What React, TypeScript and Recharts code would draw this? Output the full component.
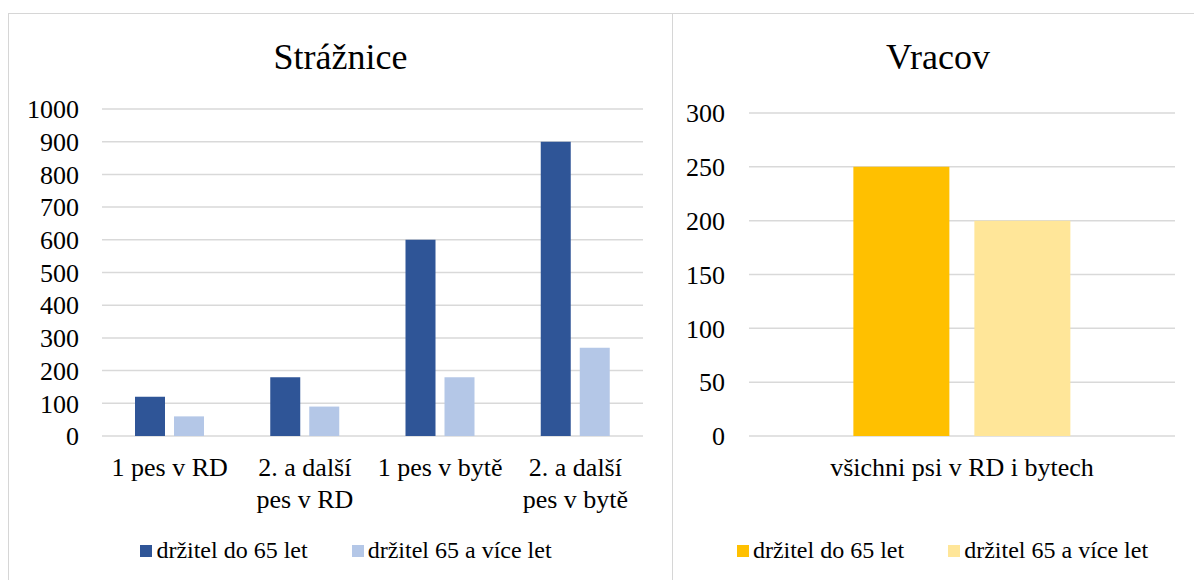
import { BarChart, Bar, XAxis, YAxis, CartesianGrid, Legend } from "recharts";

// Strážnice
const strCategories = ["1 pes v RD", "2. a další\npes v RD", "1 pes v bytě", "2. a další\npes v bytě"];
const strUnder65 = [120, 180, 600, 900];
const strOver65 = [60, 90, 180, 270];
const strTicks = [0, 100, 200, 300, 400, 500, 600, 700, 800, 900, 1000];

// Vracov
const vraCategories = ["všichni psi v RD i bytech"];
const vraUnder65 = [250];
const vraOver65 = [200];
const vraTicks = [0, 50, 100, 150, 200, 250, 300];

const seriesNames = ["držitel do 65 let", "držitel 65 a více let"];

const FONT = "'Liberation Serif', Tinos, 'Times New Roman', 'DejaVu Serif', 'Noto Serif', serif";
const GRID = "#d9d9d9";

const strData = strCategories.map((c, i) => ({ name: c, a: strUnder65[i], b: strOver65[i] }));
const vraData = vraCategories.map((c, i) => ({ name: c, a: vraUnder65[i], b: vraOver65[i] }));

function CatTick({ x, y, payload }: any) {
  const lines = String(payload.value).split("\n");
  return (
    <text x={x} y={y} textAnchor="middle" fontSize={26} fill="#000" style={{ fontFamily: FONT }}>
      {lines.map((l, i) => (
        <tspan key={i} x={x} dy={i === 0 ? 38 : 32}>
          {l}
        </tspan>
      ))}
    </text>
  );
}

function LegendBox({ payload }: any) {
  const items = [...(payload || [])].sort((p: any, q: any) => String(p.dataKey).localeCompare(String(q.dataKey)));
  return (
    <div style={{ height: 40, display: "flex", alignItems: "center", justifyContent: "center", fontFamily: FONT }}>
      {items.map((p: any, i: number) => (
        <div key={i} style={{ display: "flex", alignItems: "center", marginLeft: i > 0 ? 44 : 0 }}>
          <span style={{ width: 12, height: 12, background: p.color, marginRight: 4, marginTop: 2 }} />
          <span style={{ fontSize: 24, lineHeight: "24px", color: "#000" }}>{p.value}</span>
        </div>
      ))}
    </div>
  );
}

const titleStyle = (left: number, width: number): React.CSSProperties => ({
  position: "absolute",
  left,
  width,
  top: 37,
  height: 40,
  lineHeight: "40px",
  fontSize: 36,
  textAlign: "center",
  color: "#000",
  fontFamily: FONT,
});

const yTick = { fontSize: 26, fill: "#000", style: { fontFamily: FONT } };

export default function App() {
  return (
    <div style={{ position: "relative", width: 1194, height: 580, overflow: "hidden", background: "#fff", fontFamily: FONT }}>
      <style>{"body{margin:0} .recharts-wrapper, .recharts-wrapper text { font-family: 'Liberation Serif', Tinos, 'DejaVu Serif', serif; }"}</style>
      {/* panel borders */}
      <div style={{ position: "absolute", left: 8, top: 13, width: 665, height: 620, border: "1px solid #d6d6d6", boxSizing: "border-box" }} />
      <div style={{ position: "absolute", left: 672, top: 13, width: 540, height: 620, borderTop: "1px solid #d6d6d6", boxSizing: "border-box" }} />

      <div style={titleStyle(8, 665)}>Strážnice</div>
      <div style={titleStyle(673, 530)}>Vracov</div>

      <div style={{ position: "absolute", left: 0, top: 0 }}>
        <BarChart width={673} height={580} data={strData} margin={{ top: 109, right: 30, bottom: 10, left: 0 }} barGap={9} barCategoryGap="24.4%">
          <CartesianGrid vertical={false} stroke={GRID} strokeWidth={1.5} />
          <XAxis dataKey="name" axisLine={false} tickLine={false} tickSize={0} height={94} interval={0} tick={<CatTick />} />
          <YAxis
            type="number"
            domain={[0, 1000]}
            ticks={strTicks}
            interval={0}
            width={102}
            axisLine={false}
            tickLine={false}
            tickSize={0}
            tickMargin={23}
            tick={yTick}
          />
          <Legend content={<LegendBox />} wrapperStyle={{ left: 0, width: 692, height: 40 }} />
          <Bar dataKey="a" name={seriesNames[0]} fill="#2f5597" isAnimationActive={false} />
          <Bar dataKey="b" name={seriesNames[1]} fill="#b4c7e7" isAnimationActive={false} />
        </BarChart>
      </div>

      <div style={{ position: "absolute", left: 673, top: 0 }}>
        <BarChart width={530} height={580} data={vraData} margin={{ top: 113, right: 28, bottom: 10, left: 0 }} barGap={25} barCategoryGap="24.5%">
          <CartesianGrid vertical={false} stroke={GRID} strokeWidth={1.5} />
          <XAxis dataKey="name" axisLine={false} tickLine={false} tickSize={0} height={94} interval={0} tick={<CatTick />} />
          <YAxis
            type="number"
            domain={[0, 300]}
            ticks={vraTicks}
            interval={0}
            width={76}
            axisLine={false}
            tickLine={false}
            tickSize={0}
            tickMargin={24}
            tick={yTick}
          />
          <Legend content={<LegendBox />} wrapperStyle={{ left: 5, width: 529, height: 40 }} />
          <Bar dataKey="a" name={seriesNames[0]} fill="#ffc000" isAnimationActive={false} />
          <Bar dataKey="b" name={seriesNames[1]} fill="#ffe699" isAnimationActive={false} />
        </BarChart>
      </div>
    </div>
  );
}
